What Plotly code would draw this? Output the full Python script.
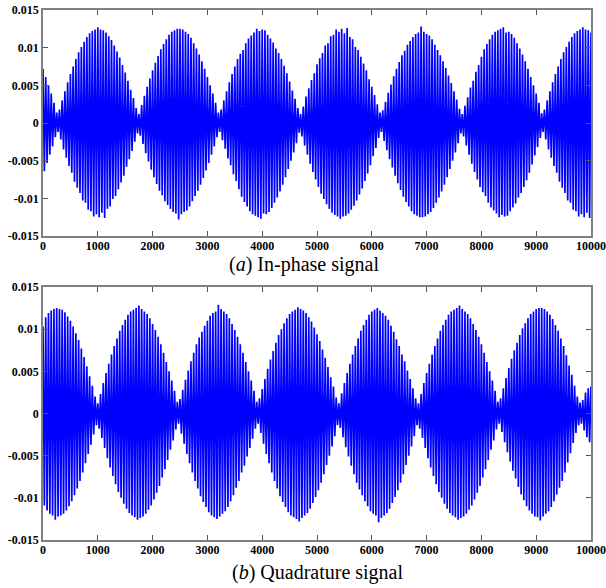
import plotly.graph_objects as go
from plotly.subplots import make_subplots

# sample index: every 25th sample
samples = list(range(0, 10001, 25))

# (a) In-phase signal: carrier strokes (alternating up/down)
in_phase = [
    # 0 .. 275
    0.0072, -0.0064, 0.0061, -0.0053, 0.0050, -0.0042, 0.0039, -0.0031, 0.0027, -0.0019,
    0.0014, -0.0012,
    # 300 .. 1750
    0.0018, -0.0022, 0.0030, -0.0035, 0.0042, -0.0046, 0.0054, -0.0057, 0.0065, -0.0066,
    0.0075, -0.0078, 0.0085, -0.0086, 0.0094, -0.0093, 0.0101, -0.0103, 0.0108, -0.0106,
    0.0114, -0.0115, 0.0119, -0.0117, 0.0122, -0.0124, 0.0124, -0.0121, 0.0127, -0.0125,
    0.0124, -0.0119, 0.0123, -0.0126, 0.0120, -0.0114, 0.0115, -0.0111, 0.0110, -0.0101,
    0.0103, -0.0097, 0.0095, -0.0088, 0.0087, -0.0079, 0.0077, -0.0070, 0.0067, -0.0058,
    0.0056, -0.0048, 0.0044, -0.0037, 0.0033, -0.0025, 0.0020, -0.0014, 0.0012,
    # 1775 .. 3225
    -0.0017, 0.0024, -0.0028, 0.0036, -0.0040, 0.0048, -0.0051, 0.0059, -0.0062, 0.0070,
    -0.0072, 0.0080, -0.0081, 0.0089, -0.0090, 0.0098, -0.0096, 0.0105, -0.0104, 0.0111,
    -0.0109, 0.0117, -0.0114, 0.0121, -0.0118, 0.0123, -0.0120, 0.0125, -0.0128, 0.0125,
    -0.0121, 0.0124, -0.0118, 0.0121, -0.0116, 0.0118, -0.0111, 0.0113, -0.0104, 0.0106,
    -0.0097, 0.0099, -0.0090, 0.0091, -0.0082, 0.0082, -0.0073, 0.0072, -0.0063, 0.0061,
    -0.0053, 0.0050, -0.0042, 0.0039, -0.0031, 0.0027, -0.0019, 0.0014, -0.0012,
    # 3250 .. 4700
    0.0018, -0.0023, 0.0030, -0.0034, 0.0042, -0.0047, 0.0054, -0.0056, 0.0065, -0.0068,
    0.0075, -0.0077, 0.0085, -0.0088, 0.0092, -0.0098, 0.0097, -0.0105, 0.0106, -0.0111,
    0.0112, -0.0117, 0.0116, -0.0121, 0.0120, -0.0123, 0.0125, -0.0125, 0.0122, -0.0127,
    0.0124, -0.0120, 0.0123, -0.0121, 0.0117, -0.0118, 0.0112, -0.0113, 0.0107, -0.0106,
    0.0099, -0.0099, 0.0093, -0.0091, 0.0085, -0.0082, 0.0076, -0.0072, 0.0066, -0.0061,
    0.0055, -0.0050, 0.0043, -0.0039, 0.0032, -0.0027, 0.0020, -0.0013, 0.0012,
    # 4725 .. 6175
    -0.0018, 0.0022, -0.0030, 0.0035, -0.0042, 0.0046, -0.0054, 0.0057, -0.0065, 0.0066,
    -0.0075, 0.0078, -0.0085, 0.0086, -0.0094, 0.0093, -0.0101, 0.0103, -0.0108, 0.0106,
    -0.0114, 0.0115, -0.0119, 0.0117, -0.0122, 0.0124, -0.0124, 0.0121, -0.0127, 0.0125,
    -0.0124, 0.0119, -0.0123, 0.0126, -0.0120, 0.0114, -0.0115, 0.0111, -0.0110, 0.0101,
    -0.0103, 0.0097, -0.0095, 0.0088, -0.0087, 0.0079, -0.0077, 0.0070, -0.0067, 0.0058,
    -0.0056, 0.0048, -0.0044, 0.0037, -0.0033, 0.0025, -0.0020, 0.0014, -0.0012,
    # 6200 .. 7650
    0.0017, -0.0024, 0.0028, -0.0036, 0.0040, -0.0048, 0.0051, -0.0059, 0.0062, -0.0070,
    0.0072, -0.0080, 0.0081, -0.0089, 0.0090, -0.0098, 0.0096, -0.0105, 0.0104, -0.0111,
    0.0109, -0.0117, 0.0114, -0.0121, 0.0118, -0.0123, 0.0120, -0.0125, 0.0128, -0.0125,
    0.0121, -0.0124, 0.0118, -0.0121, 0.0116, -0.0118, 0.0111, -0.0113, 0.0104, -0.0106,
    0.0097, -0.0099, 0.0090, -0.0091, 0.0082, -0.0082, 0.0073, -0.0072, 0.0063, -0.0061,
    0.0053, -0.0050, 0.0042, -0.0039, 0.0031, -0.0027, 0.0019, -0.0014, 0.0012,
    # 7675 .. 9125
    -0.0018, 0.0023, -0.0030, 0.0034, -0.0042, 0.0047, -0.0054, 0.0056, -0.0065, 0.0068,
    -0.0075, 0.0077, -0.0085, 0.0088, -0.0092, 0.0098, -0.0097, 0.0105, -0.0106, 0.0111,
    -0.0112, 0.0117, -0.0116, 0.0121, -0.0120, 0.0123, -0.0125, 0.0125, -0.0122, 0.0127,
    -0.0124, 0.0120, -0.0123, 0.0121, -0.0117, 0.0118, -0.0112, 0.0113, -0.0107, 0.0106,
    -0.0099, 0.0099, -0.0093, 0.0091, -0.0085, 0.0082, -0.0076, 0.0072, -0.0066, 0.0061,
    -0.0055, 0.0050, -0.0043, 0.0039, -0.0032, 0.0027, -0.0020, 0.0013, -0.0012,
    # 9150 .. 10000
    0.0018, -0.0022, 0.0030, -0.0035, 0.0042, -0.0046, 0.0054, -0.0057, 0.0065, -0.0066,
    0.0075, -0.0078, 0.0085, -0.0086, 0.0094, -0.0093, 0.0101, -0.0103, 0.0108, -0.0106,
    0.0114, -0.0115, 0.0119, -0.0117, 0.0122, -0.0124, 0.0124, -0.0121, 0.0127, -0.0125,
    0.0124, -0.0119, 0.0123, -0.0126, 0.0120,
]

# (b) Quadrature signal: carrier strokes
quadrature = [
    # 0 .. 1000
    0.0103, -0.0109, 0.0114, -0.0115, 0.0119, -0.0119, 0.0122, -0.0121, 0.0124, -0.0126,
    0.0125, -0.0122, 0.0124, -0.0121, 0.0123, -0.0119, 0.0120, -0.0115, 0.0115, -0.0110,
    0.0110, -0.0104, 0.0103, -0.0097, 0.0095, -0.0089, 0.0087, -0.0080, 0.0077, -0.0070,
    0.0067, -0.0059, 0.0056, -0.0048, 0.0044, -0.0037, 0.0033, -0.0025, 0.0020, -0.0014,
    0.0012,
    # 1025 .. 2475
    -0.0018, 0.0023, -0.0029, 0.0036, -0.0041, 0.0048, -0.0053, 0.0059, -0.0064, 0.0070,
    -0.0074, 0.0080, -0.0084, 0.0089, -0.0093, 0.0098, -0.0100, 0.0105, -0.0107, 0.0111,
    -0.0113, 0.0117, -0.0118, 0.0121, -0.0121, 0.0123, -0.0123, 0.0125, -0.0126, 0.0128,
    -0.0124, 0.0124, -0.0122, 0.0121, -0.0119, 0.0118, -0.0114, 0.0113, -0.0109, 0.0106,
    -0.0102, 0.0099, -0.0094, 0.0091, -0.0086, 0.0082, -0.0076, 0.0072, -0.0066, 0.0061,
    -0.0055, 0.0050, -0.0043, 0.0039, -0.0032, 0.0027, -0.0019, 0.0014, -0.0012,
    # 2500 .. 3925
    0.0017, -0.0024, 0.0028, -0.0036, 0.0040, -0.0048, 0.0051, -0.0059, 0.0062, -0.0070,
    0.0072, -0.0080, 0.0082, -0.0089, 0.0090, -0.0098, 0.0097, -0.0105, 0.0104, -0.0111,
    0.0110, -0.0117, 0.0116, -0.0121, 0.0119, -0.0123, 0.0121, -0.0125, 0.0129, -0.0122,
    0.0124, -0.0119, 0.0121, -0.0116, 0.0118, -0.0111, 0.0113, -0.0104, 0.0106, -0.0097,
    0.0099, -0.0088, 0.0091, -0.0080, 0.0082, -0.0070, 0.0072, -0.0062, 0.0061, -0.0051,
    0.0050, -0.0041, 0.0039, -0.0030, 0.0027, -0.0018, 0.0014, -0.0012,
    # 3950 .. 5400
    0.0018, -0.0023, 0.0029, -0.0036, 0.0041, -0.0048, 0.0053, -0.0059, 0.0064, -0.0070,
    0.0074, -0.0080, 0.0084, -0.0089, 0.0093, -0.0098, 0.0100, -0.0105, 0.0107, -0.0111,
    0.0113, -0.0117, 0.0118, -0.0121, 0.0121, -0.0123, 0.0123, -0.0125, 0.0126, -0.0128,
    0.0124, -0.0124, 0.0122, -0.0121, 0.0119, -0.0118, 0.0114, -0.0113, 0.0109, -0.0106,
    0.0102, -0.0099, 0.0094, -0.0091, 0.0086, -0.0082, 0.0076, -0.0072, 0.0066, -0.0061,
    0.0055, -0.0050, 0.0043, -0.0039, 0.0032, -0.0027, 0.0019, -0.0014, 0.0012,
    # 5425 .. 6850
    -0.0017, 0.0024, -0.0028, 0.0036, -0.0040, 0.0048, -0.0051, 0.0059, -0.0062, 0.0070,
    -0.0072, 0.0080, -0.0082, 0.0089, -0.0090, 0.0098, -0.0097, 0.0105, -0.0104, 0.0111,
    -0.0110, 0.0117, -0.0116, 0.0121, -0.0119, 0.0123, -0.0121, 0.0125, -0.0129, 0.0122,
    -0.0124, 0.0119, -0.0121, 0.0116, -0.0118, 0.0111, -0.0113, 0.0104, -0.0106, 0.0097,
    -0.0099, 0.0088, -0.0091, 0.0080, -0.0082, 0.0070, -0.0072, 0.0062, -0.0061, 0.0051,
    -0.0050, 0.0041, -0.0039, 0.0030, -0.0027, 0.0018, -0.0014, 0.0012,
    # 6875 .. 8325
    -0.0018, 0.0023, -0.0029, 0.0036, -0.0041, 0.0048, -0.0053, 0.0059, -0.0064, 0.0070,
    -0.0074, 0.0080, -0.0084, 0.0089, -0.0093, 0.0098, -0.0100, 0.0105, -0.0107, 0.0111,
    -0.0113, 0.0117, -0.0118, 0.0121, -0.0121, 0.0123, -0.0123, 0.0125, -0.0126, 0.0128,
    -0.0124, 0.0124, -0.0122, 0.0121, -0.0119, 0.0118, -0.0114, 0.0113, -0.0109, 0.0106,
    -0.0102, 0.0099, -0.0094, 0.0091, -0.0086, 0.0082, -0.0076, 0.0072, -0.0066, 0.0061,
    -0.0055, 0.0050, -0.0043, 0.0039, -0.0032, 0.0027, -0.0019, 0.0014, -0.0012,
    # 8350 .. 9825
    0.0018, -0.0022, 0.0030, -0.0034, 0.0042, -0.0046, 0.0054, -0.0057, 0.0065, -0.0068,
    0.0075, -0.0077, 0.0084, -0.0087, 0.0093, -0.0096, 0.0101, -0.0103, 0.0107, -0.0110,
    0.0113, -0.0115, 0.0118, -0.0119, 0.0121, -0.0122, 0.0124, -0.0123, 0.0125, -0.0127,
    0.0125, -0.0122, 0.0124, -0.0119, 0.0121, -0.0116, 0.0117, -0.0111, 0.0112, -0.0104,
    0.0105, -0.0096, 0.0098, -0.0088, 0.0089, -0.0080, 0.0080, -0.0070, 0.0069, -0.0058,
    0.0057, -0.0047, 0.0046, -0.0035, 0.0033, -0.0023, 0.0020, -0.0014, 0.0013, -0.0012,
    # 9850 .. 10000
    0.0016, -0.0020, 0.0025, -0.0028, 0.0030, -0.0034, 0.0032,
]

x_ticks = list(range(0, 10001, 1000))
y_ticks = [-0.015, -0.01, -0.005, 0, 0.005, 0.01, 0.015]
y_tick_text = ["-0.015", "-0.01", "-0.005", "0", "0.005", "0.01", "0.015"]
captions = ["(<i>a</i>) In-phase signal", "(<i>b</i>) Quadrature signal"]

fig = make_subplots(rows=2, cols=1)
fig.add_trace(go.Scatter(x=samples, y=in_phase, mode="lines",
                         line=dict(color="#0000ff", width=1.7), showlegend=False), row=1, col=1)
fig.add_trace(go.Scatter(x=samples, y=quadrature, mode="lines",
                         line=dict(color="#0000ff", width=1.7), showlegend=False), row=2, col=1)

tickfont = dict(family="Liberation Serif", size=12, color="black", weight="bold")
axis_common = dict(showline=True, mirror="ticks", linecolor="#808080", linewidth=1.5,
                   ticks="inside", ticklen=5, tickcolor="#555555", tickwidth=1,
                   showgrid=False, zeroline=False, tickfont=tickfont, automargin=False)

fig.update_xaxes(range=[0, 10000], tickvals=x_ticks, ticktext=[str(v) for v in x_ticks],
                 ticklabelstandoff=-2, **axis_common)
fig.update_yaxes(range=[-0.015, 0.015], tickvals=y_ticks, ticktext=y_tick_text, **axis_common)

fig.update_layout(
    width=606, height=588,
    margin=dict(l=43, r=15, t=10, b=48),
    paper_bgcolor="white", plot_bgcolor="white",
    xaxis=dict(domain=[0, 1]), xaxis2=dict(domain=[0, 1]),
    yaxis=dict(domain=[0.5736, 1.0]), yaxis2=dict(domain=[0.0, 0.4774]),
)

fig.add_annotation(text=captions[0], xref="paper", yref="paper", x=0.476, y=0.5189,
                   showarrow=False, xanchor="center", yanchor="middle",
                   font=dict(family="Liberation Serif", size=20, color="black"))
fig.add_annotation(text=captions[1], xref="paper", yref="paper", x=0.502, y=-0.0604,
                   showarrow=False, xanchor="center", yanchor="middle",
                   font=dict(family="Liberation Serif", size=20, color="black"))

fig.write_html("out.html")
